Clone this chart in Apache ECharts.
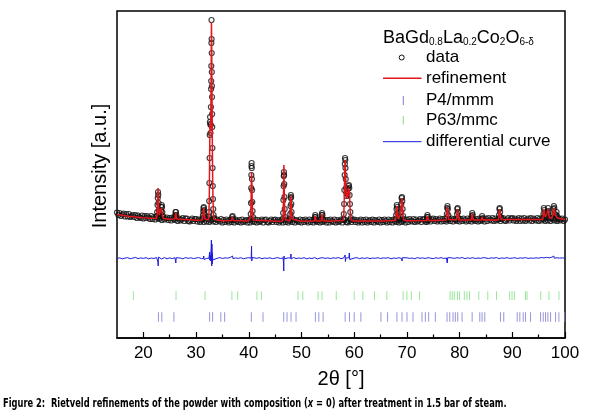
<!DOCTYPE html>
<html>
<head>
<meta charset="utf-8">
<title>Rietveld refinement</title>
<script src="https://cdn.jsdelivr.net/npm/echarts@6.0.0/dist/echarts.min.js"></script>
<style>
    html, body { margin: 0; padding: 0; background: #fff; }
    #chart { width: 589px; height: 418px; }
</style>
</head>
<body>
<div id="chart"></div>
<script>
    // 2theta grid of the measured background (deg)
    var twoThetaStart = 15, twoThetaStep = 0.25;

    // measured intensity on the grid, 15..100 deg (a.u.)
    var obsBackground = [
        125.5,123,125,122,123.5,124.5,121.5,124,121.5,124,121,122,123,121,123,120,122.5,121,120,122.5,
        119.5,122,120,122,120.5,119,122,119,121,118.5,121.5,120,119,120.5,118,121,118.5,119.5,120.5,118,
        120,117.5,120.5,119,118,120,117,119.5,117.5,118.5,120,117,119.5,119.5,117,116.5,118,119.5,117,119,
        119,116.5,118.5,116,117.5,119,116,118.5,116.5,119,116,117.5,118.5,116.5,119,116,118.5,117.5,116.5,119,
        115.5,118,116,118.5,117,115.5,118.5,116,118,115.5,118.5,117,116,118,115.5,118.5,116,117,118,115.5,
        118,115.5,118.5,117,116,118.5,115.5,118,116,117,118.5,115.5,118,118.5,116,115.5,117,118.5,116,118,
        118.5,116,118,115.5,117,118.5,115.5,118,116,118.5,115.5,117,118,116,118.5,115.5,118,117,116,118.5,
        115.5,118,116,118.5,117,115.5,118.5,116,118,115.5,118.5,117,116,118,115.5,118.5,116,117,118,115.5,
        118,115.5,118.5,117,116,118.5,115.5,118,116,117,118.5,115.5,118,118.5,116,115.5,117,118.5,116,118,
        118.5,116,118,115.5,117,118.5,115.5,118,116,118.5,115.5,117,118,116,118.5,115.5,118,117,116,118.5,
        115.5,118,116,118.5,117,115.5,118.5,116,118,115.5,118.5,117,116,118,115.5,118.5,116,117,118,115.5,
        118.5,116,119,117.5,116.5,119,116,118.5,116.5,117.5,119,116,118.5,119,116.5,116,117.5,119,116.5,118.5,
        119.5,117,119,116.5,118,119.5,116.5,119,117,119.5,116.5,118,119,117,119.5,116.5,119,118,117,119.5,
        116.5,119,117,119.5,118,116.5,119.5,117,119,116.5,119.5,118,117,119,116.5,119.5,117,118,119,116.5,
        119.5,117,120,118.5,117.5,120,117,119.5,117.5,118.5,120,117,119.5,120,117.5,117,118.5,120,117.5,119.5,
        120,117.5,119.5,117,118.5,120,117,119.5,117.5,120,117,118.5,119.5,117.5,120,117,119.5,118.5,117.5,120,
        117,119.5,117.5,120,118.5,117,120,117.5,119.5,117,120,118.5,117.5,119.5,117,120,117.5,118.5,119.5,117,
        118.5
    ];

    // measured points on the Bragg peaks [2theta, intensity]
    var obsPeaks = [
        [22.55,122],[22.62,126],[22.68,133],[22.73,140],[22.78,146],[22.83,143],[22.88,135],[22.94,128],[23.0,124],[23.1,122],
        [23.25,124],[23.35,127],[23.42,131],[23.48,133],[23.54,131],[23.6,126],[23.7,122],
        [25.98,121],[26.06,123],[26.12,126],[26.18,126],[26.25,123],[26.33,120],
        [31.22,120],[31.3,123],[31.36,127],[31.42,130],[31.47,131],[31.53,128],[31.6,124],[31.68,121],
        [32.38,121],[32.44,126],[32.49,137],[32.53,155],[32.57,180],[32.6,203],[32.63,216],[32.66,221],[32.7,214],[32.74,205],
        [32.78,213],[32.82,231],[32.85,249],[32.87,257],[32.89,272],[32.91,295],[32.93,318],[32.95,299],[32.97,285],[32.99,266],
        [33.01,252],[33.03,241],[33.05,224],[33.07,211],[33.1,190],[33.13,170],[33.17,152],[33.21,139],[33.26,129],[33.33,123],[33.42,120],
        [36.75,118],[36.85,121],[36.93,122],[37.02,119],
        [40.3,119],[40.37,124],[40.42,135],[40.46,150],[40.49,163],[40.52,172],[40.54,175],[40.57,170],[40.6,159],[40.63,148],
        [40.67,136],[40.72,127],[40.8,121],
        [46.45,119],[46.52,125],[46.57,138],[46.61,152],[46.64,162],[46.67,166],[46.7,163],[46.73,154],[46.77,141],[46.82,129],[46.9,121],
        [47.8,119],[47.87,124],[47.92,132],[47.96,140],[47.99,143],[48.03,141],[48.07,134],[48.12,126],[48.2,120],
        [52.45,118],[52.55,121],[52.62,123],[52.7,121],[52.8,118],
        [53.75,119],[53.84,123],[53.91,125],[53.98,123],[54.08,119],
        [57.95,119],[58.03,124],[58.09,134],[58.14,148],[58.19,163],[58.23,174],[58.27,180],[58.31,178],[58.35,170],[58.4,159],
        [58.46,150],[58.53,145],[58.62,142],[58.72,144],[58.82,149],[58.92,152],[59.0,153],[59.07,150],[59.13,143],[59.2,134],
        [59.27,126],[59.36,120],
        [67.88,119],[67.96,123],[68.03,129],[68.09,133],[68.15,131],[68.22,125],[68.32,120],[68.5,119],[68.75,121],[68.86,126],
        [68.94,134],[69.0,140],[69.06,141],[69.12,137],[69.19,129],[69.28,122],[69.4,119],
        [73.72,118],[73.83,121],[73.9,123],[73.98,121],[74.1,118],
        [77.5,119],[77.58,124],[77.65,130],[77.71,132],[77.78,129],[77.86,123],[77.96,119],
        [79.42,119],[79.5,124],[79.57,129],[79.63,130],[79.7,126],[79.8,120],
        [82.22,119],[82.32,122],[82.4,125],[82.48,123],[82.58,119],
        [84.15,119],[84.27,122],[84.4,120],
        [87.4,119],[87.48,123],[87.56,129],[87.62,130],[87.69,126],[87.78,121],[87.9,119],
        [95.8,119],[95.9,124],[95.98,130],[96.06,128],[96.15,123],[96.3,121],[96.55,122],[96.68,126],[96.78,130],[96.86,127],
        [96.96,122],[97.4,120],[97.7,123],[97.82,129],[97.9,132],[97.98,130],[98.1,124],[98.3,123],[98.4,126],[98.5,122],[98.65,119]
    ];

    // refined background [2theta, intensity]
    var calcBackground = [
        [15,123.5],[17.5,121.5],[20,120.3],[25,118.8],[30,117.8],[35,117.3],[40,117],[45,116.8],[50,116.8],[55,116.8],
        [60,116.9],[65,117],[70,117.2],[75,117.6],[80,118],[85,118.3],[90,118.4],[95,118.5],[100,118.6]
    ];

    // refined profile on the peaks [2theta, intensity]
    var calcPeaks = [
        [22.5,119.5],[22.62,124],[22.7,134],[22.76,146],[22.8,150],[22.85,141],[22.92,129],[23.0,123],[23.15,122],[23.3,124.5],
        [23.42,130],[23.49,132],[23.56,129],[23.66,122],[23.78,119.5],
        [25.95,119],[26.07,122],[26.15,125.5],[26.23,122.5],[26.35,119],
        [31.2,118],[31.32,123],[31.42,130],[31.48,130.5],[31.56,125],[31.68,119],
        [32.35,118],[32.45,125],[32.52,145],[32.58,185],[32.64,214],[32.69,212],[32.75,207],[32.82,232],[32.87,268],[32.92,316],
        [32.96,298],[33.0,262],[33.05,225],[33.1,188],[33.16,155],[33.23,135],[33.32,123],[33.45,118.5],
        [36.7,117.5],[36.9,121],[37.1,117.5],
        [40.28,117],[40.38,123],[40.45,140],[40.5,160],[40.54,166],[40.59,156],[40.65,138],[40.73,125],[40.85,118],
        [46.45,117],[46.54,125],[46.6,150],[46.65,170],[46.67,173],[46.7,165],[46.75,145],[46.82,128],[46.92,118.5],
        [47.78,117],[47.88,124],[47.95,137],[47.99,142],[48.04,138],[48.1,127],[48.2,119],
        [52.45,117],[52.62,122],[52.8,117],
        [53.72,117],[53.9,124],[54.08,117.5],
        [57.92,117.5],[58.04,124],[58.12,140],[58.2,165],[58.27,178],[58.33,172],[58.4,157],[58.48,146],[58.6,140],[58.75,143],
        [58.9,150],[59.02,152],[59.1,146],[59.2,132],[59.3,122],[59.42,118],
        [67.85,117.5],[68.0,126],[68.1,132],[68.2,126],[68.35,119],[68.6,119],[68.85,125],[68.98,136],[69.06,140],[69.14,134],
        [69.27,122],[69.42,118],
        [73.7,117.5],[73.9,122],[74.1,117.5],
        [77.48,118],[77.6,126],[77.7,131],[77.8,126],[77.95,118.5],
        [79.4,118],[79.52,124],[79.62,129],[79.72,124],[79.85,118],
        [82.2,118],[82.4,124],[82.6,118],
        [84.12,118],[84.28,121],[84.45,118],
        [87.38,118],[87.5,124],[87.6,129],[87.7,124],[87.85,118.5],
        [95.78,118.5],[95.9,124],[96.0,129],[96.1,125],[96.25,121],[96.5,121],[96.66,125],[96.78,129],[96.9,124],[97.05,120],
        [97.5,120],[97.72,124],[97.85,130],[97.92,131],[98.02,127],[98.15,123],[98.3,123],[98.42,125],[98.55,120],[98.75,118.5]
    ];

    // difference curve (shifted), 0.5 deg grid from 15 deg
    var diffStep = 0.5;
    var diffBackground = [
        79.5,80.2,79.1,79.8,80.4,79.3,79.9,80.6,79.4,80.1,
        79.6,80.3,79.2,80.0,79.5,80.5,79.3,79.9,80.4,79.2,
        80.1,79.4,80.3,79.6,80.0,79.2,80.4,79.7,80.2,79.5,
        79.9,80.5,79.3,80.1,79.6,80.3,79.4,80.0,79.7,80.4,
        79.5,80.2,79.8,80.6,79.4,80.1,79.6,80.3,79.2,79.9,
        80.3,79.5,80.1,79.7,80.4,79.3,80.0,79.6,80.2,79.4,
        79.8,80.4,79.5,80.1,79.3,80.2,79.7,80.5,79.4,80.0,
        79.6,80.3,79.2,80.0,79.5,80.4,79.1,79.9,80.3,79.6,
        80.1,79.4,80.2,79.7,80.5,79.3,80.0,79.6,80.3,79.5,
        79.9,80.4,79.3,80.1,79.6,80.2,79.4,80.0,79.7,80.3,
        79.5,80.1,79.8,80.4,79.2,80.0,79.6,80.3,79.4,79.9,
        80.2,79.6,80.0,79.3,80.4,79.7,80.1,79.5,80.3,79.8,
        79.4,80.2,79.7,80.4,79.5,80.0,79.3,80.1,79.6,80.3,
        79.8,80.5,79.4,80.1,79.7,80.3,79.5,80.0,79.6,80.4,
        80.0,79.5,80.2,79.8,80.5,79.3,80.1,79.7,80.3,79.6,
        79.9,80.3,79.5,80.1,79.8,80.4,79.6,80.0,79.7,80.2,
        79.8,80.5,80.1,80.6,80.2,80.8,80.4,80.2,79.9,80.1,
        79.8
    ];
    var diffSpikes = [
        [22.7,79.6],[22.77,76],[22.81,72],[22.86,81],[22.92,79.5],
        [23.45,79],[23.5,77.5],[23.56,80.2],
        [26.1,79.6],[26.16,75],[26.23,80.3],
        [31.4,79.7],[31.46,82],[31.52,78.5],
        [32.45,79.8],[32.52,83],[32.56,86],[32.61,78],[32.66,83],[32.72,77],[32.8,84],[32.86,90],[32.91,98],[32.94,86],
        [32.97,72],[33.01,94],[33.05,74],[33.1,85],[33.16,78],[33.25,80],
        [36.85,79.6],[36.92,82],[37.0,79.4],
        [40.45,79.8],[40.5,86],[40.53,92],[40.57,77],[40.61,76],[40.67,80.5],
        [46.55,80],[46.6,75],[46.64,67],[46.68,82],[46.71,81],[46.78,79.2],
        [47.95,79.8],[48.0,84],[48.06,79],
        [58.22,79.8],[58.28,83],[58.34,76.5],[58.42,80],
        [59.02,79.7],[59.08,85],[59.15,78.5],[59.22,80],
        [68.07,79.6],[68.12,81.5],[68.18,79.2],
        [69.02,79.8],[69.08,77],[69.14,80.3],
        [77.58,79.8],[77.66,75],[77.74,80.4],
        [97.8,80],[97.88,82],[97.96,79.8]
    ];

    // reflection positions (2theta)
    var p4mmmTicks = [22.87,23.5,25.8,32.57,33.14,34.7,35.42,40.48,42.7,46.63,47.26,48.02,48.97,52.64,53.29,54.11,
        58.29,59.11,60.0,61.27,65.08,66.34,68.11,69.07,70.02,71.16,72.87,73.5,74.13,75.4,77.62,78.13,78.76,79.2,79.64,80.47,
        82.38,83.83,84.27,84.78,87.76,88.38,90.93,91.43,92.07,92.51,93.46,95.36,95.87,96.31,96.75,97.26,98.21,98.84,99.92];
    var p63mmcTicks = [18.1,26.2,31.7,36.8,37.9,41.55,42.4,49.35,50.25,53.15,53.9,56.6,60.0,61.65,63.85,66.2,69.3,70.0,70.85,
        72.4,78.2,78.6,79.0,79.6,80.0,80.9,81.4,81.9,83.65,85.35,87.0,89.5,89.95,90.4,92.5,92.8,95.4,96.95,98.85];

    var xMajor = [20, 30, 40, 50, 60, 70, 80, 90, 100];
    var xMinor = [25, 35, 45, 55, 65, 75, 85, 95];

    function byAngle(a, b) { return a[0] - b[0]; }

    var obsData = [];
    for (var i = 0; i < obsBackground.length; i++) {
        obsData.push([twoThetaStart + i * twoThetaStep, obsBackground[i]]);
    }
    obsData = obsData.concat(obsPeaks);

    var calcData = calcBackground.concat(calcPeaks).sort(byAngle);

    var diffData = [];
    for (var j = 0; j < diffBackground.length; j++) {
        diffData.push([twoThetaStart + j * diffStep, diffBackground[j]]);
    }
    diffData = diffData.concat(diffSpikes).sort(byAngle);

    var p4Data = p4mmmTicks.map(function (t) { return [t, 21]; });
    var p63Data = p63mmcTicks.map(function (t) { return [t, 42.3]; });

    var font = "'Liberation Sans', Arial, sans-serif";
    var captionFont = "'Liberation Sans Narrow', 'DejaVu Sans Condensed', Lato, sans-serif";
    var redColor = '#e3161b', diffColor = '#1c1cdc', p4Color = '#7c7cd0', p63Color = '#7fe07f', dataColor = '#111';

    var chart = echarts.init(document.getElementById('chart'), null, { renderer: 'canvas' });

    chart.setOption({
        animation: false,
        backgroundColor: '#fff',
        grid: {
            left: 117, right: 24, top: 11, bottom: 80,
            show: true, borderColor: '#000', borderWidth: 1.5, backgroundColor: 'transparent'
        },
        xAxis: [{
            type: 'value', min: 15, max: 100,
            name: '2θ [°]', nameLocation: 'middle', nameGap: 31,
            nameTextStyle: { fontFamily: font, fontSize: 20, color: '#000' },
            axisLine: { show: true, lineStyle: { color: '#000', width: 1.5 } },
            axisTick: { show: true, inside: true, length: 6, customValues: xMajor, lineStyle: { color: '#000', width: 1.2 } },
            axisLabel: { customValues: xMajor, fontFamily: font, fontSize: 17, color: '#000', margin: 7 },
            splitLine: { show: false }
        }, {
            type: 'value', min: 15, max: 100, position: 'bottom',
            axisLine: { show: false },
            axisTick: { show: true, inside: true, length: 3.5, customValues: xMinor, lineStyle: { color: '#000', width: 1.2 } },
            axisLabel: { show: false },
            splitLine: { show: false }
        }],
        yAxis: {
            type: 'value', min: 0, max: 327,
            axisLine: { show: false }, axisTick: { show: false },
            axisLabel: { show: false }, splitLine: { show: false }
        },
        series: [
            {
                name: 'data', type: 'scatter', data: obsData,
                symbol: 'circle', symbolSize: 5, large: false,
                itemStyle: { color: 'rgba(0,0,0,0)', borderColor: dataColor, borderWidth: 1.2 },
                z: 2
            },
            {
                name: 'refinement', type: 'line', data: calcData,
                showSymbol: false, smooth: false,
                lineStyle: { color: redColor, width: 1.5 },
                z: 3
            },
            {
                name: 'differential curve', type: 'line', data: diffData,
                showSymbol: false,
                lineStyle: { color: diffColor, width: 1 },
                z: 3
            },
            {
                name: 'P4/mmm', type: 'scatter', data: p4Data,
                symbol: 'rect', symbolSize: [1, 9.5],
                itemStyle: { color: p4Color }
            },
            {
                name: 'P63/mmc', type: 'scatter', data: p63Data,
                symbol: 'rect', symbolSize: [1, 8.7],
                itemStyle: { color: p63Color }
            }
        ],
        graphic: [
            {
                type: 'text', x: 100, y: 166, rotation: Math.PI / 2,
                style: { text: 'Intensity [a.u.]', font: '20px ' + font, fill: '#000', align: 'center', verticalAlign: 'middle' }
            },
            {
                type: 'text', x: 383, y: 17,
                style: {
                    text: '{a|BaGd}{s|0.8}{a|La}{s|0.2}{a|Co}{s|2}{a|O}{s|6-δ}',
                    fill: '#000', verticalAlign: 'top',
                    rich: {
                        a: { fontFamily: font, fontSize: 18, lineHeight: 30, verticalAlign: 'bottom' },
                        s: { fontFamily: font, fontSize: 10, lineHeight: 10, verticalAlign: 'bottom' }
                    }
                }
            },
            { type: 'circle', shape: { cx: 401.7, cy: 57.5, r: 2.5 }, style: { fill: '#fff', stroke: dataColor, lineWidth: 1 } },
            { type: 'line', shape: { x1: 383, y1: 78.3, x2: 421.5, y2: 78.3 }, style: { stroke: redColor, lineWidth: 1.5 } },
            { type: 'line', shape: { x1: 403.3, y1: 96, x2: 403.3, y2: 105 }, style: { stroke: p4Color, lineWidth: 1 } },
            { type: 'line', shape: { x1: 403.3, y1: 116, x2: 403.3, y2: 124.5 }, style: { stroke: p63Color, lineWidth: 1 } },
            { type: 'line', shape: { x1: 383, y1: 141.7, x2: 421.5, y2: 141.7 }, style: { stroke: diffColor, lineWidth: 1 } },
            { type: 'text', x: 426, y: 57.5, style: { text: 'data', font: '17px ' + font, fill: '#000', verticalAlign: 'middle' } },
            { type: 'text', x: 426, y: 78, style: { text: 'refinement', font: '17px ' + font, fill: '#000', verticalAlign: 'middle' } },
            { type: 'text', x: 426, y: 100, style: { text: 'P4/mmm', font: '17px ' + font, fill: '#000', verticalAlign: 'middle' } },
            { type: 'text', x: 426, y: 120, style: { text: 'P63/mmc', font: '17px ' + font, fill: '#000', verticalAlign: 'middle' } },
            { type: 'text', x: 426, y: 141, style: { text: 'differential curve', font: '17px ' + font, fill: '#000', verticalAlign: 'middle' } },
            {
                type: 'text', x: 3, y: 404, scaleX: 0.77,
                style: {
                    text: '{b|Figure 2:  Rietveld refinements of the powder with composition (}{i|x}{b| = 0) after treatment in 1.5 bar of steam.}',
                    fill: '#000', verticalAlign: 'middle',
                    rich: {
                        b: { fontFamily: captionFont, fontWeight: 'bold', fontSize: 12 },
                        i: { fontFamily: captionFont, fontWeight: 'bold', fontStyle: 'italic', fontSize: 12 }
                    }
                }
            }
        ]
    });

    window.onresize = chart.resize;
</script>
</body>
</html>
